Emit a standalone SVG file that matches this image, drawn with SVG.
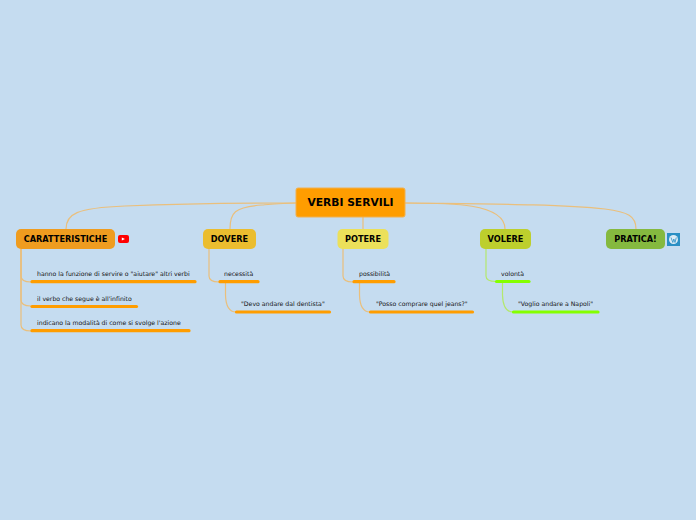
<svg xmlns="http://www.w3.org/2000/svg" width="696" height="520" viewBox="0 0 696 520">
<style>
text{font-family:"DejaVu Sans",sans-serif;opacity:.99}
.c{fill:none;stroke:#eabf7c;stroke-width:1.2}
.g{stroke:#b4e86e;}
.t{font-weight:700;font-size:8.2px;fill:#000;text-anchor:middle}
.s{font-size:6.18px;fill:#111}
.b{stroke-width:3.2;stroke-linecap:round;fill:none}
.o{stroke:#ff9d00}
.l{stroke:#84ff00}
</style>
<rect width="696" height="520" fill="#c5dcf0"/>
<g id="connectors">
<path class="c" d="M66 229 C66 214 76 208 125 206 C175 204 235 203 296 203"/>
<path class="c" d="M230 229 C230 213 234 207 262 205 C274 204 285 203 296 203"/>
<path class="c" d="M363 217 V229"/>
<path class="c" d="M405 203 C450 203 505 203 505 229"/>
<path class="c" d="M405 203 C480 204 560 204 605 209 C628 212 636 216 636 229"/>
<path class="c" d="M21 249 V276 Q21 282 31 282"/>
<path class="c" d="M21 249 V300 Q21 306 31 306"/>
<path class="c" d="M21 249 V325 Q21 331 31 331"/>
<path class="c" d="M209 249 V276 Q209 282 219 282"/>
<path class="c" d="M225.500 282 V295 Q226 312 236 312"/>
<path class="c" d="M343 249 V276 Q343 282 353 282"/>
<path class="c" d="M359.500 282 V295 Q360 312 370 312"/>
<path class="c g" d="M486 249 V276 Q486 281.500 496 281.500"/>
<path class="c g" d="M502.500 281.500 V295 Q503 312 513 312"/>
</g>
<g id="root"><rect x="296" y="188" width="109" height="29" rx="2" fill="#ff9d00" stroke="#f0b050" stroke-width="1"/><text x="350.500" y="206" text-anchor="middle" font-weight="700" font-size="10.700" fill="#000">VERBI SERVILI</text></g>
<g id="caratteristiche"><rect x="16" y="229" width="99" height="20" rx="5" fill="#ef9c1f"/><text class="t" x="65.500" y="242">CARATTERISTICHE</text>
<rect x="118" y="235" width="11" height="8" rx="2" fill="#f00"/><path d="M121.800 237.500 L125 239 L121.800 240.500Z" fill="#fff"/></g>
<g id="dovere"><rect x="203" y="229" width="53" height="20" rx="5" fill="#ebbd2f"/><text class="t" x="229.500" y="242">DOVERE</text></g>
<g id="potere"><rect x="337.500" y="229" width="51" height="20" rx="5" fill="#ece05a"/><text class="t" x="363" y="242">POTERE</text></g>
<g id="volere"><rect x="480" y="229" width="51" height="20" rx="5" fill="#bdcf2d"/><text class="t" x="505.500" y="242">VOLERE</text></g>
<g id="pratica"><rect x="606" y="229" width="59" height="20" rx="5" fill="#85b93f"/><text class="t" x="635.500" y="242">PRATICA!</text>
<rect x="667" y="233" width="13" height="13" fill="#2a8fc4"/><circle cx="673.500" cy="239.500" r="4.500" fill="#dcebf5"/><path d="M671 237.500 L672.800 242.500 L673.800 239 L675 242.500 L676.300 237.500" fill="none" stroke="#2a8fc4" stroke-width="0.800"/></g>
<g id="n1"><text class="s" x="37" y="276">hanno la funzione di servire o "aiutare" altri verbi</text><path class="b o" d="M32 281.700 H195"/></g>
<g id="n2"><text class="s" x="37" y="301">il verbo che segue è all'infinito</text><path class="b o" d="M32 306.500 H136.500"/></g>
<g id="n3"><text class="s" x="37" y="325">indicano la modalità di come si svolge l'azione</text><path class="b o" d="M32 330.700 H189"/></g>
<g id="n4"><text class="s" x="224" y="276">necessità</text><path class="b o" d="M220 281.700 H258"/></g>
<g id="n5"><text class="s" x="241" y="306">"Devo andare dal dentista"</text><path class="b o" d="M236.500 312 H329.500"/></g>
<g id="n6"><text class="s" x="359" y="276">possibilità</text><path class="b o" d="M354 281.700 H394"/></g>
<g id="n7"><text class="s" x="376" y="306">"Posso comprare quel jeans?"</text><path class="b o" d="M370.500 312 H472.500"/></g>
<g id="n8"><text class="s" x="501" y="276">volontà</text><path class="b l" d="M496.500 281.500 H529"/></g>
<g id="n9"><text class="s" x="518" y="306">"Voglio andare a Napoli"</text><path class="b l" d="M513.500 312 H598"/></g>
</svg>
